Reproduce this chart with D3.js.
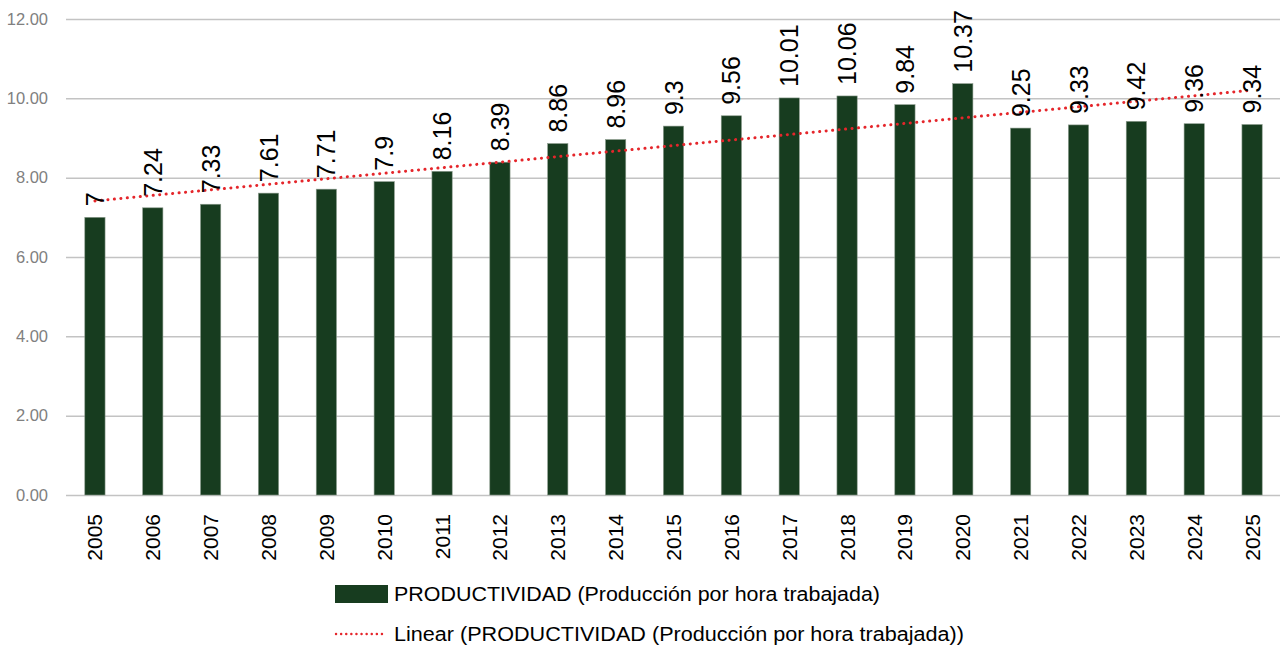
<!DOCTYPE html>
<html>
<head>
<meta charset="utf-8">
<script src="https://cdn.jsdelivr.net/npm/d3@7"></script>
<style>
  body { margin: 0; background: #fff; }
  svg { display: block; }
</style>
</head>
<body>
<svg class="chart" width="1280" height="651"></svg>
<script>
var years = ["2005","2006","2007","2008","2009","2010","2011","2012","2013","2014","2015",
	"2016","2017","2018","2019","2020","2021","2022","2023","2024","2025"];
var productividad = [7, 7.24, 7.33, 7.61, 7.71, 7.9, 8.16, 8.39, 8.86, 8.96, 9.3,
	9.56, 10.01, 10.06, 9.84, 10.37, 9.25, 9.33, 9.42, 9.36, 9.34];
var yTicks = [0, 2, 4, 6, 8, 10, 12];
var legendLabels = ["PRODUCTIVIDAD (Producción por hora trabajada)",
	"Linear (PRODUCTIVIDAD (Producción por hora trabajada))"];

var plotLeft = 66, plotRight = 1281, plotTop = 19, plotBottom = 495;
var barColor = "#173c1f", trendColor = "#e5262b";

var svg = d3.select(".chart");

var x = d3.scaleBand().domain(years).range([plotLeft, plotRight]).paddingInner(0.65).paddingOuter(0.325);
var y = d3.scaleLinear().domain([0, 12]).range([plotBottom, plotTop]);

// gridlines + y labels
var yAxis = svg.append("g")
	.attr("transform", "translate(" + plotLeft + ",0)")
	.call(d3.axisLeft(y).tickValues(yTicks).tickSize(-(plotRight - plotLeft)).tickPadding(18).tickFormat(d3.format(".2f")));
yAxis.select(".domain").remove();
yAxis.selectAll(".tick line").attr("stroke", "#c3c3c3").attr("stroke-width", 1.5);
yAxis.selectAll(".tick text")
	.attr("fill", "#808080")
	.style("font-family", "Liberation Sans, Arial, sans-serif")
	.style("font-size", "16.5px");

// bars
svg.append("g").selectAll("rect")
	.data(productividad)
	.enter().append("rect")
	.attr("x", function(d, i){ return x(years[i]); })
	.attr("width", x.bandwidth())
	.attr("y", function(d){ return y(d); })
	.attr("height", function(d){ return y(0) - y(d); })
	.attr("fill", barColor)
	.attr("stroke", "#8a9a8c")
	.attr("stroke-width", 0.6);

// x labels
var xAxis = svg.append("g")
	.attr("transform", "translate(0," + plotBottom + ")")
	.call(d3.axisBottom(x).tickSize(0));
xAxis.select(".domain").remove();
xAxis.selectAll(".tick text")
	.attr("transform", "rotate(-90)")
	.attr("x", -19).attr("y", 0).attr("dy", "0.36em")
	.style("text-anchor", "end")
	.attr("fill", "#000")
	.style("font-family", "Liberation Sans, Arial, sans-serif")
	.style("font-size", "21px");

// linear trend
var n = productividad.length;
var mx = d3.mean(d3.range(n)), my = d3.mean(productividad);
var slope = d3.sum(productividad, function(d, i){ return (i - mx) * (d - my); }) /
	d3.sum(d3.range(n), function(i){ return (i - mx) * (i - mx); });
var icpt = my - slope * mx;
var line = d3.line()
	.x(function(i){ return x(years[i]) + x.bandwidth() / 2; })
	.y(function(i){ return y(icpt + slope * i); });
svg.append("path")
	.datum([0, n - 1])
	.attr("d", line)
	.attr("fill", "none")
	.attr("stroke", trendColor)
	.attr("stroke-width", 3)
	.attr("stroke-linecap", "round")
	.attr("stroke-dasharray", "0.1,6.4");

// data labels
svg.append("g").selectAll("text")
	.data(productividad)
	.enter().append("text")
	.attr("transform", function(d, i){
		return "translate(" + (x(years[i]) + x.bandwidth() / 2) + "," + (y(d) - 11) + ") rotate(-90)";
	})
	.attr("dy", "0.36em")
	.style("font-family", "Liberation Sans, Arial, sans-serif")
	.style("font-size", "25px")
	.attr("fill", "#000")
	.text(function(d){ return d; });

// legend
var legend = svg.append("g");
legend.append("rect")
	.attr("x", 335).attr("y", 585).attr("width", 53).attr("height", 18)
	.attr("fill", barColor);
legend.append("line")
	.attr("x1", 336).attr("x2", 387).attr("y1", 634).attr("y2", 634)
	.attr("stroke", trendColor).attr("stroke-width", 2.4)
	.attr("stroke-linecap", "round")
	.attr("stroke-dasharray", "0.1,5");
legend.selectAll("text")
	.data(legendLabels)
	.enter().append("text")
	.attr("x", 394)
	.attr("y", function(d, i){ return 594 + i * 40; })
	.attr("dy", "0.35em")
	.attr("textLength", function(d, i){ return i == 0 ? 486 : 570; })
	.attr("lengthAdjust", "spacingAndGlyphs")
	.style("font-family", "Liberation Sans, Arial, sans-serif")
	.style("font-size", "20px")
	.attr("fill", "#000")
	.text(function(d){ return d; });
</script>
</body>
</html>
